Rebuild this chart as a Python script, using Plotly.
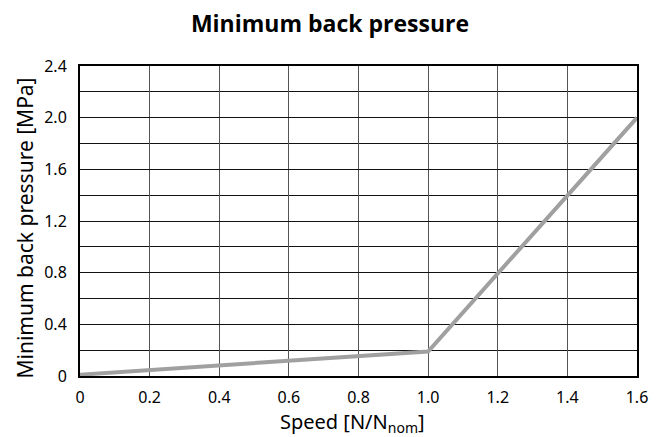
import plotly.graph_objects as go

speed = [0.0, 1.0, 1.6]
pressure = [0.01, 0.19, 2.0]

x_ticks = [0, 0.2, 0.4, 0.6, 0.8, 1.0, 1.2, 1.4, 1.6]
x_labels = ["0", "0.2", "0.4", "0.6", "0.8", "1.0", "1.2", "1.4", "1.6"]
y_ticks = [0, 0.4, 0.8, 1.2, 1.6, 2.0, 2.4]
y_labels = ["0", "0.4", "0.8", "1.2", "1.6", "2.0", "2.4"]

fig = go.Figure()
fig.add_trace(go.Scatter(x=speed, y=pressure, mode="lines",
                         line=dict(color="#a0a0a0", width=4), showlegend=False))

font = "Noto Sans"
W, H = 656, 429
fig.update_layout(
    width=W, height=H,
    margin=dict(l=72, r=27, t=58, b=61, autoexpand=False),
    plot_bgcolor="white", paper_bgcolor="white",
    title=dict(text="<b>Minimum back pressure</b>", x=(330 - 8) / W, xanchor="center",
               y=1 - 16 / H, yanchor="middle",
               font=dict(family="Open Sans", size=23, color="black")),
    font=dict(family=font, size=16, color="black"),
    xaxis=dict(range=[0, 1.6], tickvals=x_ticks, ticktext=x_labels,
               showgrid=True, gridcolor="#555555", gridwidth=1,
               showline=True, linecolor="black", linewidth=2, mirror=True,
               zeroline=False, ticks="", ticklabelstandoff=6, automargin=False),
    yaxis=dict(range=[0, 2.4], tickvals=y_ticks, ticktext=y_labels,
               showgrid=True, gridcolor="#111111", gridwidth=1,
               minor=dict(dtick=0.2, tick0=0, showgrid=True, gridcolor="#111111", gridwidth=1),
               showline=True, linecolor="black", linewidth=2, mirror=True,
               zeroline=False, ticks="", ticklabelstandoff=8, automargin=False),
    annotations=[
        dict(text="Speed [N/N<sub>nom</sub>]", xref="paper", yref="paper",
             x=(278 - 80) / 557, y=-(422 - 376) / 310, xanchor="left", yanchor="middle",
             showarrow=False, font=dict(family=font, size=20, color="black")),
        dict(text="Minimum back pressure [MPa]", xref="paper", yref="paper",
             x=(24 - 80) / 557, y=(376 - 228.5) / 310, xanchor="center", yanchor="middle",
             textangle=-90, showarrow=False, font=dict(family=font, size=21, color="black")),
    ],
)

fig.write_html("out.html")
